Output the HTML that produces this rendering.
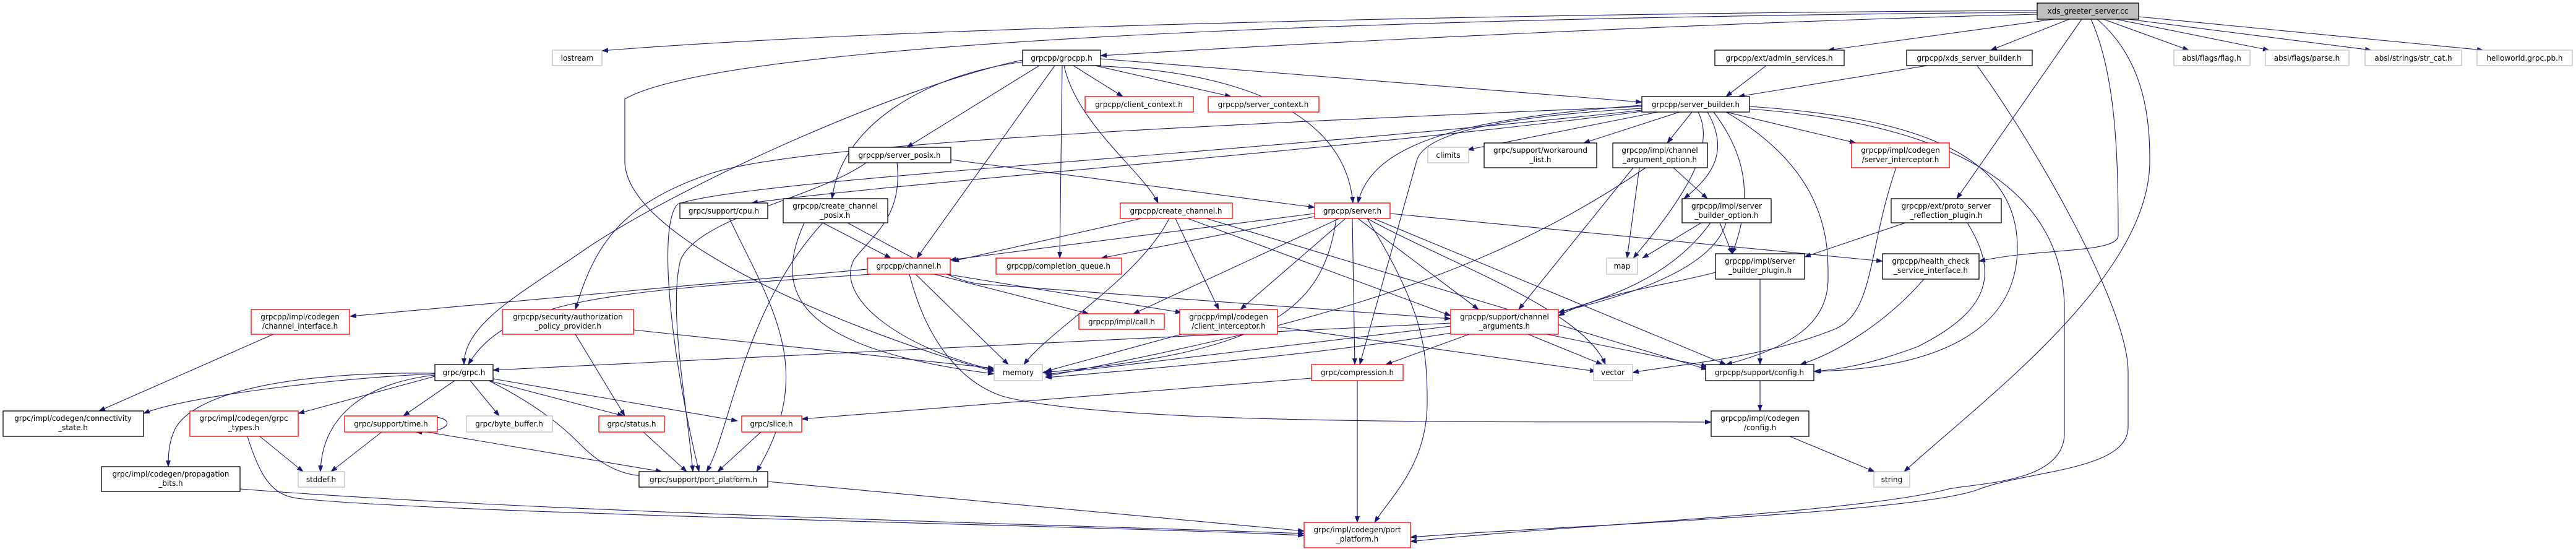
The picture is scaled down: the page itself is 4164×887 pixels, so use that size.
<!DOCTYPE html>
<html><head><meta charset="utf-8"><style>
html,body{margin:0;padding:0;background:#fff;}
svg{display:block;}
text{font-family:"DejaVu Sans","Liberation Sans",sans-serif;font-size:12px;fill:#000;}
.e{fill:none;stroke:#191970;stroke-width:1.1;marker-end:url(#a);}
.b{fill:#fff;stroke:#000;stroke-width:1.3;}
.r{fill:#fff;stroke:#ff0000;stroke-width:1.3;}
.g{fill:#fff;stroke:#bfbfbf;stroke-width:1.3;}
</style></head><body>
<svg width="4164" height="887" viewBox="0 0 4164 887" xmlns="http://www.w3.org/2000/svg">
<defs><marker id="a" markerUnits="userSpaceOnUse" markerWidth="11" markerHeight="8" refX="10" refY="4" orient="auto"><path d="M0,0 L11,4 L0,8 z" fill="#191970"/></marker></defs>
<g>
<!-- xds edges -->
<path class="e" d="M3293,17 C2600,20 1500,40 973,82"/>
<path class="e" d="M3293,20 C2600,25 1200,50 1010,160 L1010,260 C1010,400 1450,560 1607,600"/>
<path class="e" d="M3293,23 C2800,35 2100,70 1779,90"/>
<path class="e" d="M3320,31 L2955,81"/>
<path class="e" d="M3345,31 L3218,81"/>
<path class="e" d="M3365,31 L3163,321"/>
<path class="e" d="M3380,31 C3420,120 3424,250 3424,380 C3424,410 3300,400 3199,422"/>
<path class="e" d="M3390,31 C3470,100 3475,200 3475,260 C3475,450 3200,650 3078,762"/>
<path class="e" d="M3400,31 L3538,81"/>
<path class="e" d="M3420,31 L3668,81"/>
<path class="e" d="M3440,31 L3833,81"/>
<path class="e" d="M3457,27 L4014,81"/>
<path class="e" d="M3196,106 C3300,250 3440,500 3440,600 L3440,690 C3440,760 3280,760 3200,790 C3100,830 2500,850 2280,868"/>
<path class="e" d="M3115,106 L2810,156"/>
<path class="e" d="M2855,106 L2790,156"/>
<!-- grpcpp.h -->
<path class="e" d="M1779,95 L2654,165"/>
<path class="e" d="M1760,106 C1900,110 2170,140 2187,328"/>
<path class="e" d="M1735,106 L1815,156"/>
<path class="e" d="M1770,106 L1990,156"/>
<path class="e" d="M1717,106 L1713,417"/>
<path class="e" d="M1720,106 C1740,200 1850,280 1872,328"/>
<path class="e" d="M1705,106 L1482,417"/>
<path class="e" d="M1680,106 L1466,238"/>
<path class="e" d="M1653,100 C1500,120 1360,200 1345,321"/>
<path class="e" d="M1653,97 C1450,140 1100,300 950,400 C850,470 750,520 750,589"/>
<!-- server_builder -->
<path class="e" d="M2680,181 L2372,242"/>
<path class="e" d="M2715,181 L2560,231"/>
<path class="e" d="M2735,181 L2695,231"/>
<path class="e" d="M2790,181 L3000,231"/>
<path class="e" d="M2760,181 C2800,250 2760,290 2722,321"/>
<path class="e" d="M2770,181 C2830,260 2830,330 2800,410"/>
<path class="e" d="M2745,181 C2770,230 2740,300 2640,417"/>
<path class="e" d="M2790,181 C2960,280 2955,400 2955,450 C2955,520 2900,560 2790,589"/>
<path class="e" d="M2828,172 C3100,190 3261,250 3261,400 C3261,550 3100,597 2932,600"/>
<path class="e" d="M2828,176 C3150,200 3337,300 3337,500 L3337,700 C3337,780 3200,780 3150,790 C3000,830 2500,850 2280,875"/>
<path class="e" d="M2654,170 C2400,190 2220,220 2195,328"/>
<path class="e" d="M2654,175 C2400,190 2300,220 2290,260 L2198,589"/>
<path class="e" d="M2654,172 C2000,200 1300,230 1150,280 C1000,330 960,400 930,500"/>
<path class="e" d="M2654,178 C2000,250 1200,290 1095,330 C1060,370 1090,600 1130,762"/>
<path class="e" d="M2654,180 C2200,240 1400,300 1215,328"/>
<!-- server.h -->
<path class="e" d="M2210,353 C2300,500 2307,560 2307,650 C2307,750 2250,800 2222,844"/>
<path class="e" d="M2186,353 L2190,589"/>
<path class="e" d="M2160,353 C2140,500 2050,570 1685,602"/>
<path class="e" d="M2165,353 L1832,507"/>
<path class="e" d="M2175,353 L2005,500"/>
<path class="e" d="M2195,353 L2390,500"/>
<path class="e" d="M2210,353 C2330,420 2560,500 2595,589"/>
<path class="e" d="M2220,353 L2790,589"/>
<path class="e" d="M2247,345 L3043,422"/>
<path class="e" d="M2125,345 L1536,420"/>
<path class="e" d="M2125,350 L1780,417"/>
<!-- create_channel -->
<path class="e" d="M1845,353 L1540,422"/>
<path class="e" d="M1890,353 C1840,450 1700,530 1655,589"/>
<path class="e" d="M1900,353 L1970,500"/>
<path class="e" d="M1920,353 L2345,510"/>
<path class="e" d="M1950,353 L2760,597"/>
<!-- create_channel_posix -->
<path class="e" d="M1330,360 L1440,417"/>
<path class="e" d="M1300,360 C1260,450 1250,560 1607,604"/>
<path class="e" d="M1330,360 C1200,500 1180,700 1142,762"/>
<path class="e" d="M1370,360 C1500,430 1550,460 1600,460 L2345,515"/>
<!-- server_posix -->
<path class="e" d="M1537,258 L2125,335"/>
<path class="e" d="M1400,263 C1320,320 1130,350 1100,420 C1080,500 1110,650 1120,762"/>
<path class="e" d="M1450,263 C1460,350 1410,380 1380,420 C1350,480 1450,560 1607,598"/>
<path class="e" d="M1179,353 C1250,500 1320,600 1223,762"/>
<!-- channel.h -->
<path class="e" d="M1410,443 C1000,470 820,480 757,589"/>
<path class="e" d="M1402,435 L566,511"/>
<path class="e" d="M1480,443 L1630,589"/>
<path class="e" d="M1510,443 L1760,507"/>
<path class="e" d="M1530,443 L1910,505"/>
<path class="e" d="M1470,443 C1500,560 1560,620 1620,640 C1800,690 2500,680 2766,682"/>
<path class="e" d="M2065,528 L2580,600"/>
<path class="e" d="M1910,540 L1690,600"/>
<!-- channel_arguments -->
<path class="e" d="M2345,527 L1690,605"/>
<path class="e" d="M2375,540 L2240,589"/>
<path class="e" d="M2470,540 L2590,589"/>
<path class="e" d="M2500,540 L2760,592"/>
<path class="e" d="M2345,522 L797,598"/>
<!-- channel_argument_option etc -->
<path class="e" d="M2660,271 C2400,450 2100,530 1690,608"/>
<path class="e" d="M2640,271 L2455,500"/>
<path class="e" d="M2650,271 L2630,417"/>
<path class="e" d="M2705,271 L2760,321"/>
<path class="e" d="M2750,360 L2655,417"/>
<path class="e" d="M2765,360 C2700,450 2600,480 2519,505"/>
<path class="e" d="M2780,360 L2800,410"/>
<path class="e" d="M2773,440 C2700,460 2600,470 2519,510"/>
<path class="e" d="M2790,360 C2750,500 2300,560 1690,610"/>
<path class="e" d="M2845,451 L2845,589"/>
<path class="e" d="M3080,360 L2917,415"/>
<path class="e" d="M3180,360 C3230,440 3220,500 3100,560 C3020,590 2970,597 2934,600"/>
<path class="e" d="M3110,451 C3050,520 2970,570 2910,589"/>
<path class="e" d="M3065,271 C3020,400 3030,500 2970,530 C2850,580 2700,590 2639,602"/>
<path class="e" d="M2845,615 L2845,664"/>
<path class="e" d="M2893,705 L3030,762"/>
<!-- grpc.h -->
<path class="e" d="M703,604 C550,610 300,640 232,668"/>
<path class="e" d="M703,608 L482,668"/>
<path class="e" d="M735,615 L652,672"/>
<path class="e" d="M760,615 L807,672"/>
<path class="e" d="M790,615 L1008,672"/>
<path class="e" d="M797,612 L1192,680"/>
<path class="e" d="M790,615 C880,660 920,700 940,720 C980,760 1030,780 1080,762"/>
<path class="e" d="M703,606 C580,620 520,680 518,762"/>
<path class="e" d="M703,603 C450,600 300,640 280,700 C272,720 272,740 272,754"/>
<path class="e" d="M442,540 L160,664"/>
<path class="e" d="M930,540 L1010,672"/>
<path class="e" d="M1024,533 L1607,595"/>
<!-- low level -->
<path class="e" d="M617,698 L535,762"/>
<path class="e" d="M690,698 L1070,762"/>
<path class="e" d="M670,675 C740,665 740,700 672,698"/>
<path class="e" d="M420,705 L490,762"/>
<path class="e" d="M400,705 C420,770 440,800 480,805 C700,830 1800,850 2108,865"/>
<path class="e" d="M388,790 C900,830 1800,850 2108,862"/>
<path class="e" d="M1040,698 L1110,762"/>
<path class="e" d="M1230,698 L1160,762"/>
<path class="e" d="M2120,611 L1296,677"/>
<path class="e" d="M2194,615 L2194,844"/>
<path class="e" d="M1241,778 L2108,858"/>
</g>
<g>
<rect x="3293" y="5" width="164" height="26" fill="#bfbfbf" stroke="#000" stroke-width="1.3"/><text x="3375" y="22" text-anchor="middle">xds_greeter_server.cc</text>
<rect class="g" x="893" y="81" width="80" height="25"/><text x="933" y="98" text-anchor="middle">iostream</text>
<rect class="b" x="1653" y="81" width="126" height="25"/><text x="1716" y="98" text-anchor="middle">grpcpp/grpcpp.h</text>
<rect class="b" x="2772" y="81" width="209" height="25"/><text x="2876" y="98" text-anchor="middle">grpcpp/ext/admin_services.h</text>
<rect class="b" x="3082" y="81" width="203" height="25"/><text x="3183" y="98" text-anchor="middle">grpcpp/xds_server_builder.h</text>
<rect class="g" x="3514" y="81" width="123" height="25"/><text x="3575" y="98" text-anchor="middle">absl/flags/flag.h</text>
<rect class="g" x="3662" y="81" width="135" height="25"/><text x="3729" y="98" text-anchor="middle">absl/flags/parse.h</text>
<rect class="g" x="3823" y="81" width="156" height="25"/><text x="3901" y="98" text-anchor="middle">absl/strings/str_cat.h</text>
<rect class="g" x="4004" y="81" width="154" height="25"/><text x="4081" y="98" text-anchor="middle">helloworld.grpc.pb.h</text>
<rect class="r" x="1754" y="156" width="175" height="25"/><text x="1841" y="173" text-anchor="middle">grpcpp/client_context.h</text>
<rect class="r" x="1953" y="156" width="179" height="25"/><text x="2042" y="173" text-anchor="middle">grpcpp/server_context.h</text>
<rect class="b" x="2654" y="156" width="174" height="25"/><text x="2741" y="173" text-anchor="middle">grpcpp/server_builder.h</text>
<rect class="b" x="1372" y="238" width="165" height="25"/><text x="1454" y="255" text-anchor="middle">grpcpp/server_posix.h</text>
<rect class="g" x="2308" y="238" width="66" height="25"/><text x="2341" y="255" text-anchor="middle">climits</text>
<rect class="b" x="2399" y="231" width="182" height="40"/><text x="2490" y="247" text-anchor="middle">grpc/support/workaround</text><text x="2490" y="262" text-anchor="middle">_list.h</text>
<rect class="b" x="2607" y="231" width="153" height="40"/><text x="2683" y="247" text-anchor="middle">grpcpp/impl/channel</text><text x="2683" y="262" text-anchor="middle">_argument_option.h</text>
<rect class="r" x="2993" y="231" width="158" height="40"/><text x="3072" y="247" text-anchor="middle">grpcpp/impl/codegen</text><text x="3072" y="262" text-anchor="middle">/server_interceptor.h</text>
<rect class="b" x="1099" y="328" width="142" height="25"/><text x="1170" y="345" text-anchor="middle">grpc/support/cpu.h</text>
<rect class="b" x="1266" y="321" width="169" height="39"/><text x="1350" y="337" text-anchor="middle">grpcpp/create_channel</text><text x="1350" y="352" text-anchor="middle">_posix.h</text>
<rect class="r" x="1811" y="328" width="181" height="25"/><text x="1901" y="345" text-anchor="middle">grpcpp/create_channel.h</text>
<rect class="r" x="2125" y="328" width="122" height="25"/><text x="2186" y="345" text-anchor="middle">grpcpp/server.h</text>
<rect class="b" x="2719" y="321" width="144" height="39"/><text x="2791" y="337" text-anchor="middle">grpcpp/impl/server</text><text x="2791" y="352" text-anchor="middle">_builder_option.h</text>
<rect class="b" x="3057" y="321" width="178" height="39"/><text x="3146" y="337" text-anchor="middle">grpcpp/ext/proto_server</text><text x="3146" y="352" text-anchor="middle">_reflection_plugin.h</text>
<rect class="r" x="1402" y="417" width="134" height="26"/><text x="1469" y="434" text-anchor="middle">grpcpp/channel.h</text>
<rect class="r" x="1610" y="417" width="203" height="26"/><text x="1711" y="434" text-anchor="middle">grpcpp/completion_queue.h</text>
<rect class="g" x="2597" y="417" width="50" height="26"/><text x="2622" y="434" text-anchor="middle">map</text>
<rect class="b" x="2773" y="410" width="144" height="41"/><text x="2845" y="426" text-anchor="middle">grpcpp/impl/server</text><text x="2845" y="441" text-anchor="middle">_builder_plugin.h</text>
<rect class="b" x="3043" y="410" width="156" height="41"/><text x="3121" y="426" text-anchor="middle">grpcpp/health_check</text><text x="3121" y="441" text-anchor="middle">_service_interface.h</text>
<rect class="r" x="406" y="500" width="159" height="40"/><text x="485" y="516" text-anchor="middle">grpcpp/impl/codegen</text><text x="485" y="531" text-anchor="middle">/channel_interface.h</text>
<rect class="r" x="812" y="500" width="212" height="40"/><text x="918" y="516" text-anchor="middle">grpcpp/security/authorization</text><text x="918" y="531" text-anchor="middle">_policy_provider.h</text>
<rect class="r" x="1744" y="507" width="138" height="25"/><text x="1813" y="524" text-anchor="middle">grpcpp/impl/call.h</text>
<rect class="r" x="1907" y="500" width="158" height="40"/><text x="1986" y="516" text-anchor="middle">grpcpp/impl/codegen</text><text x="1986" y="531" text-anchor="middle">/client_interceptor.h</text>
<rect class="r" x="2345" y="500" width="174" height="40"/><text x="2432" y="516" text-anchor="middle">grpcpp/support/channel</text><text x="2432" y="531" text-anchor="middle">_arguments.h</text>
<rect class="b" x="703" y="589" width="94" height="26"/><text x="750" y="606" text-anchor="middle">grpc/grpc.h</text>
<rect class="g" x="1607" y="589" width="78" height="26"/><text x="1646" y="606" text-anchor="middle">memory</text>
<rect class="r" x="2120" y="589" width="148" height="26"/><text x="2194" y="606" text-anchor="middle">grpc/compression.h</text>
<rect class="g" x="2576" y="589" width="63" height="26"/><text x="2607" y="606" text-anchor="middle">vector</text>
<rect class="b" x="2757" y="589" width="175" height="26"/><text x="2844" y="606" text-anchor="middle">grpcpp/support/config.h</text>
<rect class="b" x="5" y="664" width="227" height="41"/><text x="118" y="680" text-anchor="middle">grpc/impl/codegen/connectivity</text><text x="118" y="695" text-anchor="middle">_state.h</text>
<rect class="r" x="307" y="664" width="175" height="41"/><text x="394" y="680" text-anchor="middle">grpc/impl/codegen/grpc</text><text x="394" y="695" text-anchor="middle">_types.h</text>
<rect class="r" x="557" y="672" width="150" height="26"/><text x="632" y="689" text-anchor="middle">grpc/support/time.h</text>
<rect class="g" x="754" y="672" width="139" height="26"/><text x="823" y="689" text-anchor="middle">grpc/byte_buffer.h</text>
<rect class="r" x="968" y="672" width="106" height="26"/><text x="1021" y="689" text-anchor="middle">grpc/status.h</text>
<rect class="r" x="1199" y="672" width="97" height="26"/><text x="1247" y="689" text-anchor="middle">grpc/slice.h</text>
<rect class="b" x="2766" y="664" width="158" height="41"/><text x="2845" y="680" text-anchor="middle">grpcpp/impl/codegen</text><text x="2845" y="695" text-anchor="middle">/config.h</text>
<rect class="b" x="164" y="754" width="224" height="40"/><text x="276" y="770" text-anchor="middle">grpc/impl/codegen/propagation</text><text x="276" y="785" text-anchor="middle">_bits.h</text>
<rect class="g" x="482" y="762" width="75" height="25"/><text x="519" y="779" text-anchor="middle">stddef.h</text>
<rect class="b" x="1033" y="762" width="208" height="25"/><text x="1137" y="779" text-anchor="middle">grpc/support/port_platform.h</text>
<rect class="g" x="3029" y="762" width="58" height="25"/><text x="3058" y="779" text-anchor="middle">string</text>
<rect class="r" x="2108" y="844" width="172" height="41"/><text x="2194" y="860" text-anchor="middle">grpc/impl/codegen/port</text><text x="2194" y="875" text-anchor="middle">_platform.h</text>
</g>
</svg>
</body></html>
